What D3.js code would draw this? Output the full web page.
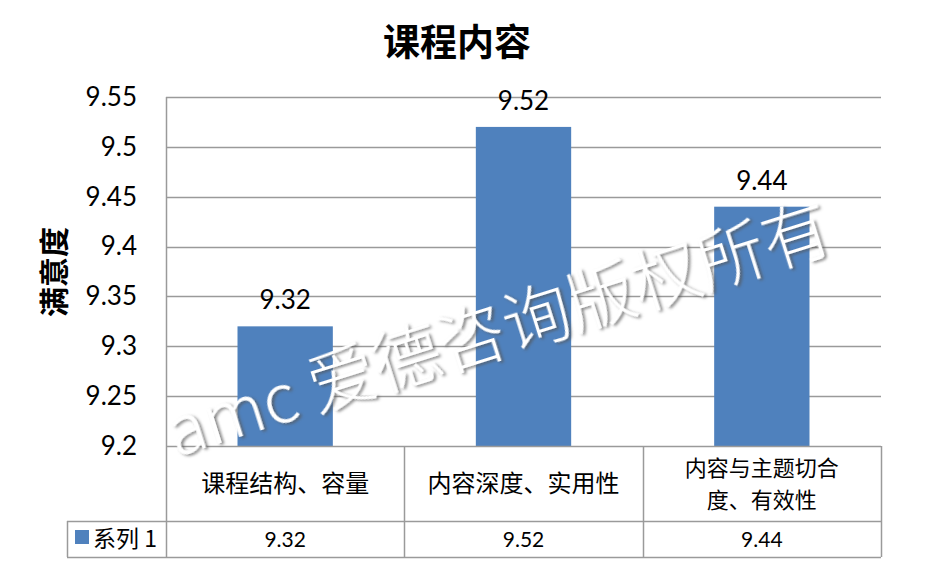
<!DOCTYPE html>
<html><head><meta charset="utf-8">
<script src="https://cdn.jsdelivr.net/npm/d3@7"></script>
<style>body{margin:0;background:#fff}svg{display:block}</style>
</head><body>
<svg id="c" width="943" height="583"></svg>
<script>
const categories = ["课程结构、容量", "内容深度、实用性", "内容与主题切合度、有效性"];
const categoryLines = [["课程结构、容量"], ["内容深度、实用性"], ["内容与主题切合", "度、有效性"]];
const seriesName = "系列 1";
const values = [9.32, 9.52, 9.44];
const yTicks = [9.2, 9.25, 9.3, 9.35, 9.4, 9.45, 9.5, 9.55];
const title = "课程内容";
const yTitle = "满意度";
const watermark = "amc 爱德咨询版权所有";

const svg = d3.select("#c");
const L = 166, R = 881, T = 97, B = 446;
const row1 = 521, row2 = 557, tableLeft = 67;
const numFont = "Lato, 'Liberation Sans', sans-serif";
const cjkFont = "'Noto Sans CJK SC', sans-serif";
const gridColor = "#9a9a9a";

const defs = svg.append("defs");
const f = defs.append("filter").attr("id", "sh").attr("x", "-10%").attr("y", "-30%").attr("width", "130%").attr("height", "160%");
f.append("feDropShadow").attr("dx", 2).attr("dy", 2).attr("stdDeviation", 1.6)
  .attr("flood-color", "#555").attr("flood-opacity", 0.75);

const y = d3.scaleLinear().domain([9.2, 9.55]).range([B, T]);
const x = d3.scaleBand().domain(categories).range([L, R]).padding(0);
const barW = x.bandwidth() / 2.5;

// title
svg.append("text").attr("x", 457).attr("y", 56).attr("text-anchor", "middle")
  .attr("font-family", cjkFont).attr("font-weight", "bold").attr("font-size", 37)
  .attr("fill", "#000").text(title);

// gridlines
svg.append("g").selectAll("line").data(yTicks.slice(1)).join("line")
  .attr("x1", L).attr("x2", R).attr("y1", d => Math.round(y(d)) + 0.5).attr("y2", d => Math.round(y(d)) + 0.5)
  .attr("stroke", gridColor).attr("stroke-width", 1.5);

// y axis
const yAxis = d3.axisLeft(y).tickValues(yTicks).tickSize(0).tickPadding(29).tickFormat(d => String(+d.toFixed(2)));
const gy = svg.append("g").attr("transform", `translate(${L},0)`).call(yAxis);
gy.select(".domain").remove();
gy.selectAll("text").attr("font-family", numFont).attr("font-size", 26).attr("fill", "#000");

// y title
svg.append("text").attr("transform", `translate(65,272) rotate(-90)`).attr("text-anchor", "middle")
  .attr("font-family", cjkFont).attr("font-weight", "bold").attr("font-size", 30).attr("fill", "#000").text(yTitle);

// bars
svg.append("g").selectAll("rect").data(values).join("rect")
  .attr("x", (d, i) => x(categories[i]) + (x.bandwidth() - barW) / 2)
  .attr("width", barW)
  .attr("y", d => y(d)).attr("height", d => y(9.2) - y(d))
  .attr("fill", "#4F81BD");

// value labels
svg.append("g").selectAll("text").data(values).join("text")
  .attr("x", (d, i) => x(categories[i]) + x.bandwidth() / 2)
  .attr("y", d => y(d) - 17)
  .attr("text-anchor", "middle").attr("font-family", numFont).attr("font-size", 26).attr("fill", "#000")
  .text(d => d.toFixed(2));

// table lines
const tl = svg.append("g").attr("stroke", gridColor).attr("stroke-width", 1.5);
tl.append("line").attr("x1", L).attr("x2", R).attr("y1", B + 0.5).attr("y2", B + 0.5);
tl.append("line").attr("x1", tableLeft).attr("x2", R).attr("y1", row1 + 0.5).attr("y2", row1 + 0.5);
tl.append("line").attr("x1", tableLeft).attr("x2", R).attr("y1", row2 + 0.5).attr("y2", row2 + 0.5);
tl.append("line").attr("x1", tableLeft + 0.5).attr("x2", tableLeft + 0.5).attr("y1", row1).attr("y2", row2);
tl.append("line").attr("x1", L + 0.5).attr("x2", L + 0.5).attr("y1", T).attr("y2", row2);
tl.selectAll(".v").data(categories).join("line")
  .attr("x1", d => Math.round(x(d) + x.bandwidth()) + 0.5).attr("x2", d => Math.round(x(d) + x.bandwidth()) + 0.5)
  .attr("y1", B).attr("y2", row2);

// category labels (one text element per category, wrapped lines as tspans)
categoryLines.forEach((lines, i) => {
  const cx = x(categories[i]) + x.bandwidth() / 2;
  const n = lines.length;
  const fs = n > 1 ? 22 : 24;
  const lh = 32.5;
  const cy = (B + row1) / 2;
  const t = svg.append("text").attr("text-anchor", "middle").attr("font-family", cjkFont)
    .attr("font-size", fs).attr("fill", "#000");
  lines.forEach((ln, j) => {
    t.append("tspan").attr("x", cx).attr("y", cy + (j - (n - 1) / 2) * lh + 8.5).text(ln);
  });
});

// series row
svg.append("rect").attr("x", 75).attr("y", 530).attr("width", 14).attr("height", 14).attr("fill", "#4F81BD");
svg.append("text").attr("x", 93).attr("y", 547).attr("font-family", cjkFont).attr("font-size", 23).attr("fill", "#000").text(seriesName);
svg.append("g").selectAll("text").data(values).join("text")
  .attr("x", (d, i) => x(categories[i]) + x.bandwidth() / 2).attr("y", 547)
  .attr("text-anchor", "middle").attr("font-family", numFont).attr("font-size", 21).attr("fill", "#000")
  .text(d => d.toFixed(2));

// watermark
svg.append("text").attr("transform", "translate(176,457) rotate(-17.5)")
  .attr("font-family", "'Noto Sans CJK SC', 'Open Sans', sans-serif").attr("font-weight", 300).attr("font-size", 68)
  .attr("fill", "#fff").attr("filter", "url(#sh)")
  .text(watermark);
</script>
</body></html>
